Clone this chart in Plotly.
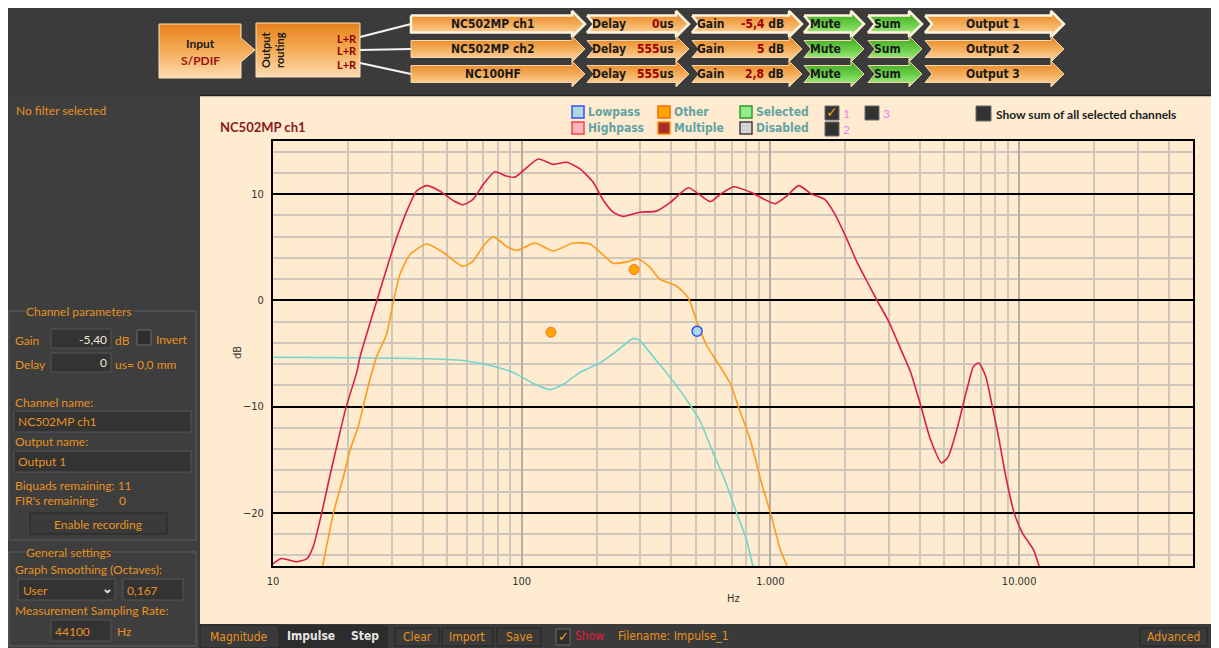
import math
import plotly.graph_objects as go

# magnitude responses (Hz / dB)
red_hz = [10, 10.8, 12.5, 13.7, 14.5, 15.7, 16.9, 18.3, 19.7, 21.7, 22.4, 26.1, 30.5, 34.5, 37.8,
          41.5, 46.8, 53, 58.1, 63.7, 70, 78, 86.7, 94, 101.4, 116.6, 134, 151.5, 171, 194, 212,
          233, 256, 298, 348, 395, 467, 522, 574, 630, 712, 829, 1042, 1160, 1299, 1464, 1653,
          1818, 2000, 2228, 2444, 2683, 2984, 3328, 3652, 4010, 4402, 4875, 5187, 5612, 6162,
          6561, 6881, 7324, 7800, 8304, 8841, 9548, 10313, 11436, 11985, 12500]
red_db = [-24.8, -24.3, -24.6, -24.3, -23.2, -20.0, -16.6, -13.1, -10.0, -6.8, -5.3, -0.1, 5.0,
          8.4, 10.3, 10.8, 10.3, 9.4, 9.0, 9.5, 10.9, 12.1, 11.7, 11.6, 12.2, 13.3, 12.8, 13.0,
          12.4, 11.1, 9.5, 8.3, 7.9, 8.3, 8.4, 9.2, 10.6, 9.9, 9.3, 10.0, 10.7, 10.2, 9.1, 9.8,
          10.8, 10.0, 9.5, 8.1, 6.1, 3.6, 1.8, 0.0, -1.95, -4.5, -6.7, -9.8, -13.1, -15.3, -14.7,
          -12.2, -8.4, -6.2, -5.9, -7.1, -10.0, -13.1, -16.6, -20.0, -21.9, -23.5, -24.9, -26.0]

orange_hz = [15.5, 15.9, 17.5, 19.2, 20.4, 22.0, 23.1, 24.5, 26.1, 28.6, 30.5, 32.4, 35.5, 41.5,
             48.4, 58.1, 63.7, 70, 76.8, 86.7, 95.3, 113, 134, 161, 188, 212, 233, 263, 294, 328,
             359, 419, 467, 505, 553, 607, 689, 743, 829, 921, 1000, 1097, 1160, 1200]
orange_db = [-26.0, -24.8, -20.0, -16.6, -14.1, -11.9, -9.9, -7.5, -5.3, -3.2, -0.1, 2.45, 4.3,
             5.3, 4.5, 3.2, 3.7, 5.1, 6.0, 5.1, 4.7, 5.4, 4.65, 5.4, 5.3, 4.3, 3.5, 3.6, 3.9, 3.1,
             2.0, 1.35, 0.25, -1.95, -4.2, -5.7, -7.8, -10.0, -13.1, -17.2, -20.0, -23.5, -24.9,
             -26.0]

cyan_hz = [10, 20, 41.5, 60, 76.8, 92.7, 111, 130, 147, 171, 206, 240, 280, 298, 338, 382, 406,
           474, 522, 589, 648, 731, 801, 846, 870]
cyan_db = [-5.35, -5.4, -5.5, -5.7, -6.2, -6.8, -7.8, -8.4, -7.9, -6.8, -5.9, -4.8, -3.6, -3.8,
           -5.3, -6.8, -7.6, -9.8, -11.4, -14.4, -16.6, -20.0, -22.5, -24.8, -26.0]

other_hz = [131, 283]
other_db = [-3.0, 2.9]
lowpass_hz = [507]
lowpass_db = [-2.9]

x_decades = [10, 100, 1000, 10000]
x_decade_text = ["10", "100", "1.000", "10.000"]
y_major = [-20, -10, 0, 10]

channels = ["NC502MP ch1", "NC502MP ch2", "NC100HF"]
delays = ["0", "555", "555"]
gains = ["-5,4", "5", "2,8"]
outputs = ["Output 1", "Output 2", "Output 3"]

# the page puts an 8px body margin around the figure; coordinates below are page pixels
OFF = 8
FW, FH = 1219 - OFF, 648 - OFF
UIF = "Lato, Noto Sans, sans-serif"
NARROW = "Liberation Sans Narrow, DejaVu Sans Condensed, Lato, sans-serif"
ORANGE = "#e8921f"
CREAM = "#feebd0"
DARK = "#3e3e3e"
ORANGE_GRAD = [[0, "#fddcb2"], [0.45, "#f6b160"], [1, "#e6801a"]]
GREEN_GRAD = [[0, "#b4ef98"], [0.45, "#6fd14c"], [1, "#39a51e"]]


def px(x):
    return (x - OFF) / FW


def py(y):
    return 1 - (y - OFF) / FH


shapes = []
annotations = []
deco = []


def rect(x0, y0, x1, y1, fill, line=None, lw=1, layer="below"):
    shapes.append(dict(type="rect", xref="paper", yref="paper", x0=px(x0), x1=px(x1),
                       y0=py(y1), y1=py(y0), fillcolor=fill, layer=layer,
                       line=dict(color=line or "rgba(0,0,0,0)", width=lw if line else 0)))


def seg(x0, y0, x1, y1, color, w=1):
    shapes.append(dict(type="line", xref="paper", yref="paper", x0=px(x0), x1=px(x1),
                       y0=py(y0), y1=py(y1), line=dict(color=color, width=w), layer="below"))


def text(x, y, s, color=ORANGE, size=12, anchor="left", family=UIF, angle=0, bg=None):
    annotations.append(dict(xref="paper", yref="paper", x=px(x), y=py(y), text=s,
                            showarrow=False, xanchor=anchor, yanchor="middle", textangle=angle,
                            font=dict(color=color, size=size, family=family),
                            bgcolor=bg, borderpad=0))


def gradpoly(pts, grad, edge, lw):
    # filled outline on the full-page overlay axes, with a vertical gradient
    pts = list(pts) + [pts[0]]
    xs, ys = zip(*pts)
    deco.append(go.Scatter(x=xs, y=ys, xaxis="x2", yaxis="y2", mode="lines", fill="toself",
                           fillgradient=dict(type="vertical", colorscale=grad),
                           line=dict(color=edge, width=lw), hoverinfo="skip"))


def arrow(x0, x1, yc, grad, edge, lw, notch=True, hb=8.5, hh=13, hl=13):
    top, bot = yc - hb, yc + hb
    pts = [(x0, top), (x1 - hl, top), (x1 - hl, yc - hh), (x1, yc), (x1 - hl, yc + hh),
           (x1 - hl, bot), (x0, bot)]
    if notch:
        pts.append((x0 + 7, yc))
    gradpoly(pts, grad, edge, lw)


# ---- window chrome ----
rect(8, 6, 1219, 95, "#3b3b3b")
rect(8, 95, 200, 648, DARK)
rect(200, 95, 1219, 624, CREAM)
rect(200, 624, 1219, 648, "#3a3a3a")
seg(200, 95.5, 1219, 95.5, "#1e1e1e", 1.5)

# ---- top routing diagram ----
gradpoly([(159, 24), (241, 24), (241, 38), (255, 50), (241, 62), (241, 78), (159, 78)],
         ORANGE_GRAD, "#fde3bd", 1)
text(200, 43, "<b>Input</b>", "#1a1a1a", 12, "center")
text(200, 60, "<b>S/PDIF</b>", "#a01010", 12, "center")
gradpoly([(256, 23), (360, 23), (360, 77), (256, 77)], ORANGE_GRAD, "#fde3bd", 1)
seg(288, 23, 288, 77, "#fde3bd", 1)
text(272, 50, "<b>Output<br>routing</b>", "#1a1a1a", 11, "center", angle=-90)
row_y = [24, 49, 74]
for yc, src in zip(row_y, [37, 50, 63]):
    text(358, src + 1, "<b>L+R</b>", "#8b0000", 11, "right")
    seg(360, src, 411, yc, "#f4f4f4", 2)

for i, (name, d, g, out) in enumerate(zip(channels, delays, gains, outputs)):
    yc = row_y[i]
    edge, lw = ("#fff3dc", 2.5) if i == 0 else ("#f6d7aa", 1)
    # draw right to left so each arrow head sits over the next box
    arrow(925, 1064, yc, ORANGE_GRAD, edge, lw)
    arrow(868, 922, yc, GREEN_GRAD, edge, lw)
    arrow(804, 864, yc, GREEN_GRAD, edge, lw)
    arrow(692, 802, yc, ORANGE_GRAD, edge, lw)
    arrow(587, 689, yc, ORANGE_GRAD, edge, lw)
    arrow(411, 585, yc, ORANGE_GRAD, edge, lw, notch=False)
    text(493, yc, f"<b>{name}</b>", "#1a1a1a", 12, "center", NARROW)
    text(591, yc, "<b>Delay</b>", "#1a1a1a", 12, "left", NARROW)
    text(675, yc, f"<b><span style='color:#a00000'>{d}</span>us</b>", "#1a1a1a", 12, "right", NARROW)
    text(696, yc, "<b>Gain</b>", "#1a1a1a", 12, "left", NARROW)
    text(785, yc, f"<b><span style='color:#a00000'>{g}</span> dB</b>", "#1a1a1a", 12, "right", NARROW)
    text(809, yc, "<b>Mute</b>", "#1a1a1a", 12, "left", NARROW)
    text(873, yc, "<b>Sum</b>", "#1a1a1a", 12, "left", NARROW)
    text(993, yc, f"<b>{out}</b>", "#1a1a1a", 12, "center", NARROW)

# ---- left settings panel ----
text(15, 110, "No filter selected")
rect(9, 311, 196, 540, "rgba(0,0,0,0)", "#5e5e5e", 1)
text(25, 311, "Channel parameters", bg=DARK)
text(14, 340, "Gain")
rect(51, 329, 111, 348, "#333333", "#555555", 1)
text(108, 339, "-5,40", "#f0e6d8", 12, "right")
text(114, 340, "dB")
rect(137, 330, 151, 345, "#2e2e2e", "#6a6a6a", 1)
text(155, 339, "Invert")
text(14, 364, "Delay")
rect(51, 353, 111, 372, "#333333", "#555555", 1)
text(108, 362, "0", "#f0e6d8", 12, "right")
text(114, 364, "us= 0,0 mm")
text(14, 402, "Channel name:")
rect(14, 411, 191, 432, "#333333", "#555555", 1)
text(17, 421, "NC502MP ch1")
text(14, 441, "Output name:")
rect(14, 451, 191, 472, "#333333", "#555555", 1)
text(17, 461, "Output 1")
text(14, 485, "Biquads remaining: 11")
text(14, 500, "FIR's remaining:")
text(118, 500, "0")
rect(30, 513, 167, 534, "#3a3a3a", "#262626", 1)
text(98, 524, "Enable recording", anchor="center")
rect(9, 552, 196, 646, "rgba(0,0,0,0)", "#5e5e5e", 1)
text(25, 552, "General settings", bg=DARK)
text(14, 569, "Graph Smoothing (Octaves):")
rect(18, 579, 115, 600, "#333333", "#555555", 1)
text(22, 590, "User")
text(107, 588, "<b>⌄</b>", "#e8e8e8", 13, "center")
rect(123, 579, 183, 600, "#333333", "#555555", 1)
text(126, 590, "0,167")
text(14, 610, "Measurement Sampling Rate:")
rect(51, 620, 111, 641, "#333333", "#555555", 1)
text(54, 631, "44100")
text(116, 631, "Hz")

# ---- bottom tool bar ----
rect(200, 625, 279, 648, "#3a3a3a", "#262626", 1)
rect(279, 625, 343, 648, "#2c2c2c")
rect(343, 625, 388, 648, "#2c2c2c")
text(239, 637, "Magnitude", ORANGE, 12, "center", NARROW)
text(311, 636, "<b>Impulse</b>", "#e6e6e6", 12, "center", NARROW)
text(365, 636, "<b>Step</b>", "#e6e6e6", 12, "center", NARROW)
for x0, x1, lab in [(395, 439, "Clear"), (442, 493, "Import"), (497, 541, "Save"),
                    (1140, 1207, "Advanced")]:
    rect(x0, 628, x1, 646, "#3a3a3a", "#242424", 1)
    text((x0 + x1) / 2, 637, lab, ORANGE, 12, "center", NARROW)
rect(556, 629, 570, 645, "#2e2e2e", "#6a6a6a", 1)
text(563, 636, "✓", "#e8a020", 13, "center")
text(574, 636, "Show", "#e0203c", 12, "left", NARROW)
text(617, 636, "Filename: Impulse_1", ORANGE, 12, "left", NARROW)

# ---- chart header: title, filter legend, channel checkboxes ----
text(219, 127, "<b>NC502MP ch1</b>", "#8b1a1a", 13)
legend_items = [
    (572, 112, "#add8e6", "#3050ff", "Lowpass"),
    (572, 128, "#ffb6c1", "#ff4040", "Highpass"),
    (658, 112, "#ffa500", "#ff6a00", "Other"),
    (658, 128, "#a52a2a", "#ff8c00", "Multiple"),
    (740, 112, "#90ee90", "#2e9e2e", "Selected"),
    (740, 128, "#d3d3d3", "#404040", "Disabled"),
]
for x0, yc, fill, edge, lab in legend_items:
    rect(x0, yc - 6, x0 + 12, yc + 6, fill, edge, 1.5, layer="above")
    text(x0 + 15, yc, f"<b>{lab}</b>", "#62a4a4", 12, "left", NARROW)
for x0, yc, lab in [(825, 113, "1"), (825, 129, "2"), (865, 113, "3")]:
    rect(x0, yc - 7, x0 + 14, yc + 7, "#333333", "#6a6a6a", 1, layer="above")
    text(x0 + 21, yc, lab, "#f07cf0", 12, "center")
text(832, 112, "✓", "#e8a020", 14, "center")
rect(976, 106, 991, 121, "#333333", "#6a6a6a", 1, layer="above")
text(995, 114, "<b>Show sum of all selected channels</b>", "#202020", 12)

# ---- plot ----
fig = go.Figure()
fig.add_trace(go.Scatter(x=cyan_hz, y=cyan_db, mode="lines",
                         line=dict(color="#6fd6ca", width=1.6, shape="spline", smoothing=0.6)))
fig.add_trace(go.Scatter(x=orange_hz, y=orange_db, mode="lines",
                         line=dict(color="#ff9a1a", width=1.6, shape="spline", smoothing=0.6)))
fig.add_trace(go.Scatter(x=red_hz, y=red_db, mode="lines",
                         line=dict(color="#dc1f45", width=1.6, shape="spline", smoothing=0.6)))
fig.add_trace(go.Scatter(x=other_hz, y=other_db, mode="markers",
                         marker=dict(size=10, color="#ffa500", line=dict(color="#ff7020", width=1))))
fig.add_trace(go.Scatter(x=lowpass_hz, y=lowpass_db, mode="markers",
                         marker=dict(size=10, color="#add8e6", line=dict(color="#3050ff", width=1.5))))
for tr in deco:
    fig.add_trace(tr)

x_grid = [m * d for d in x_decades for m in range(2, 10) if m * d <= 50000]
y_grid = [v for v in range(-24, 15, 2) if v not in y_major]

text(733, 598, "Hz", "#333333", 11, "center", NARROW)
text(237, 353, "dB", "#333333", 11, "center", NARROW, angle=-90)

fig.update_xaxes(type="log", range=[1, math.log10(50000)], domain=[px(273), px(1193)],
                 tickmode="array", tickvals=x_decades, ticktext=x_decade_text,
                 showgrid=True, gridcolor="#b3ada4", gridwidth=1.5,
                 minor=dict(tickmode="array", tickvals=x_grid, showgrid=True,
                            gridcolor="#cfc7bb", gridwidth=1.5, ticks=""),
                 showline=True, linecolor="black", linewidth=2, mirror=True,
                 ticks="outside", ticklen=4, tickcolor="rgba(0,0,0,0)", zeroline=False,
                 tickfont=dict(size=11, color="#333333", family=NARROW), automargin=False)
fig.update_yaxes(range=[-25, 15], domain=[py(566), py(141)],
                 tickmode="array", tickvals=y_major, showgrid=True, gridcolor="black",
                 gridwidth=2,
                 minor=dict(tickmode="array", tickvals=y_grid, showgrid=True,
                            gridcolor="#cfc7bb", gridwidth=1.5, ticks=""),
                 showline=True, linecolor="black", linewidth=2, mirror=True,
                 ticks="outside", ticklen=5, tickcolor="rgba(0,0,0,0)", zeroline=False,
                 tickfont=dict(size=11, color="#333333", family=NARROW), automargin=False)

fig.update_layout(
    width=FW, height=FH, autosize=False, margin=dict(l=0, r=0, t=0, b=0),
    paper_bgcolor="white", plot_bgcolor="rgba(0,0,0,0)", showlegend=False,
    xaxis2=dict(domain=[0, 1], range=[OFF, 1219], anchor="y2", visible=False, fixedrange=True),
    yaxis2=dict(domain=[0, 1], range=[648, OFF], anchor="x2", visible=False, fixedrange=True),
    shapes=shapes, annotations=annotations)

fig.write_html("out.html")
